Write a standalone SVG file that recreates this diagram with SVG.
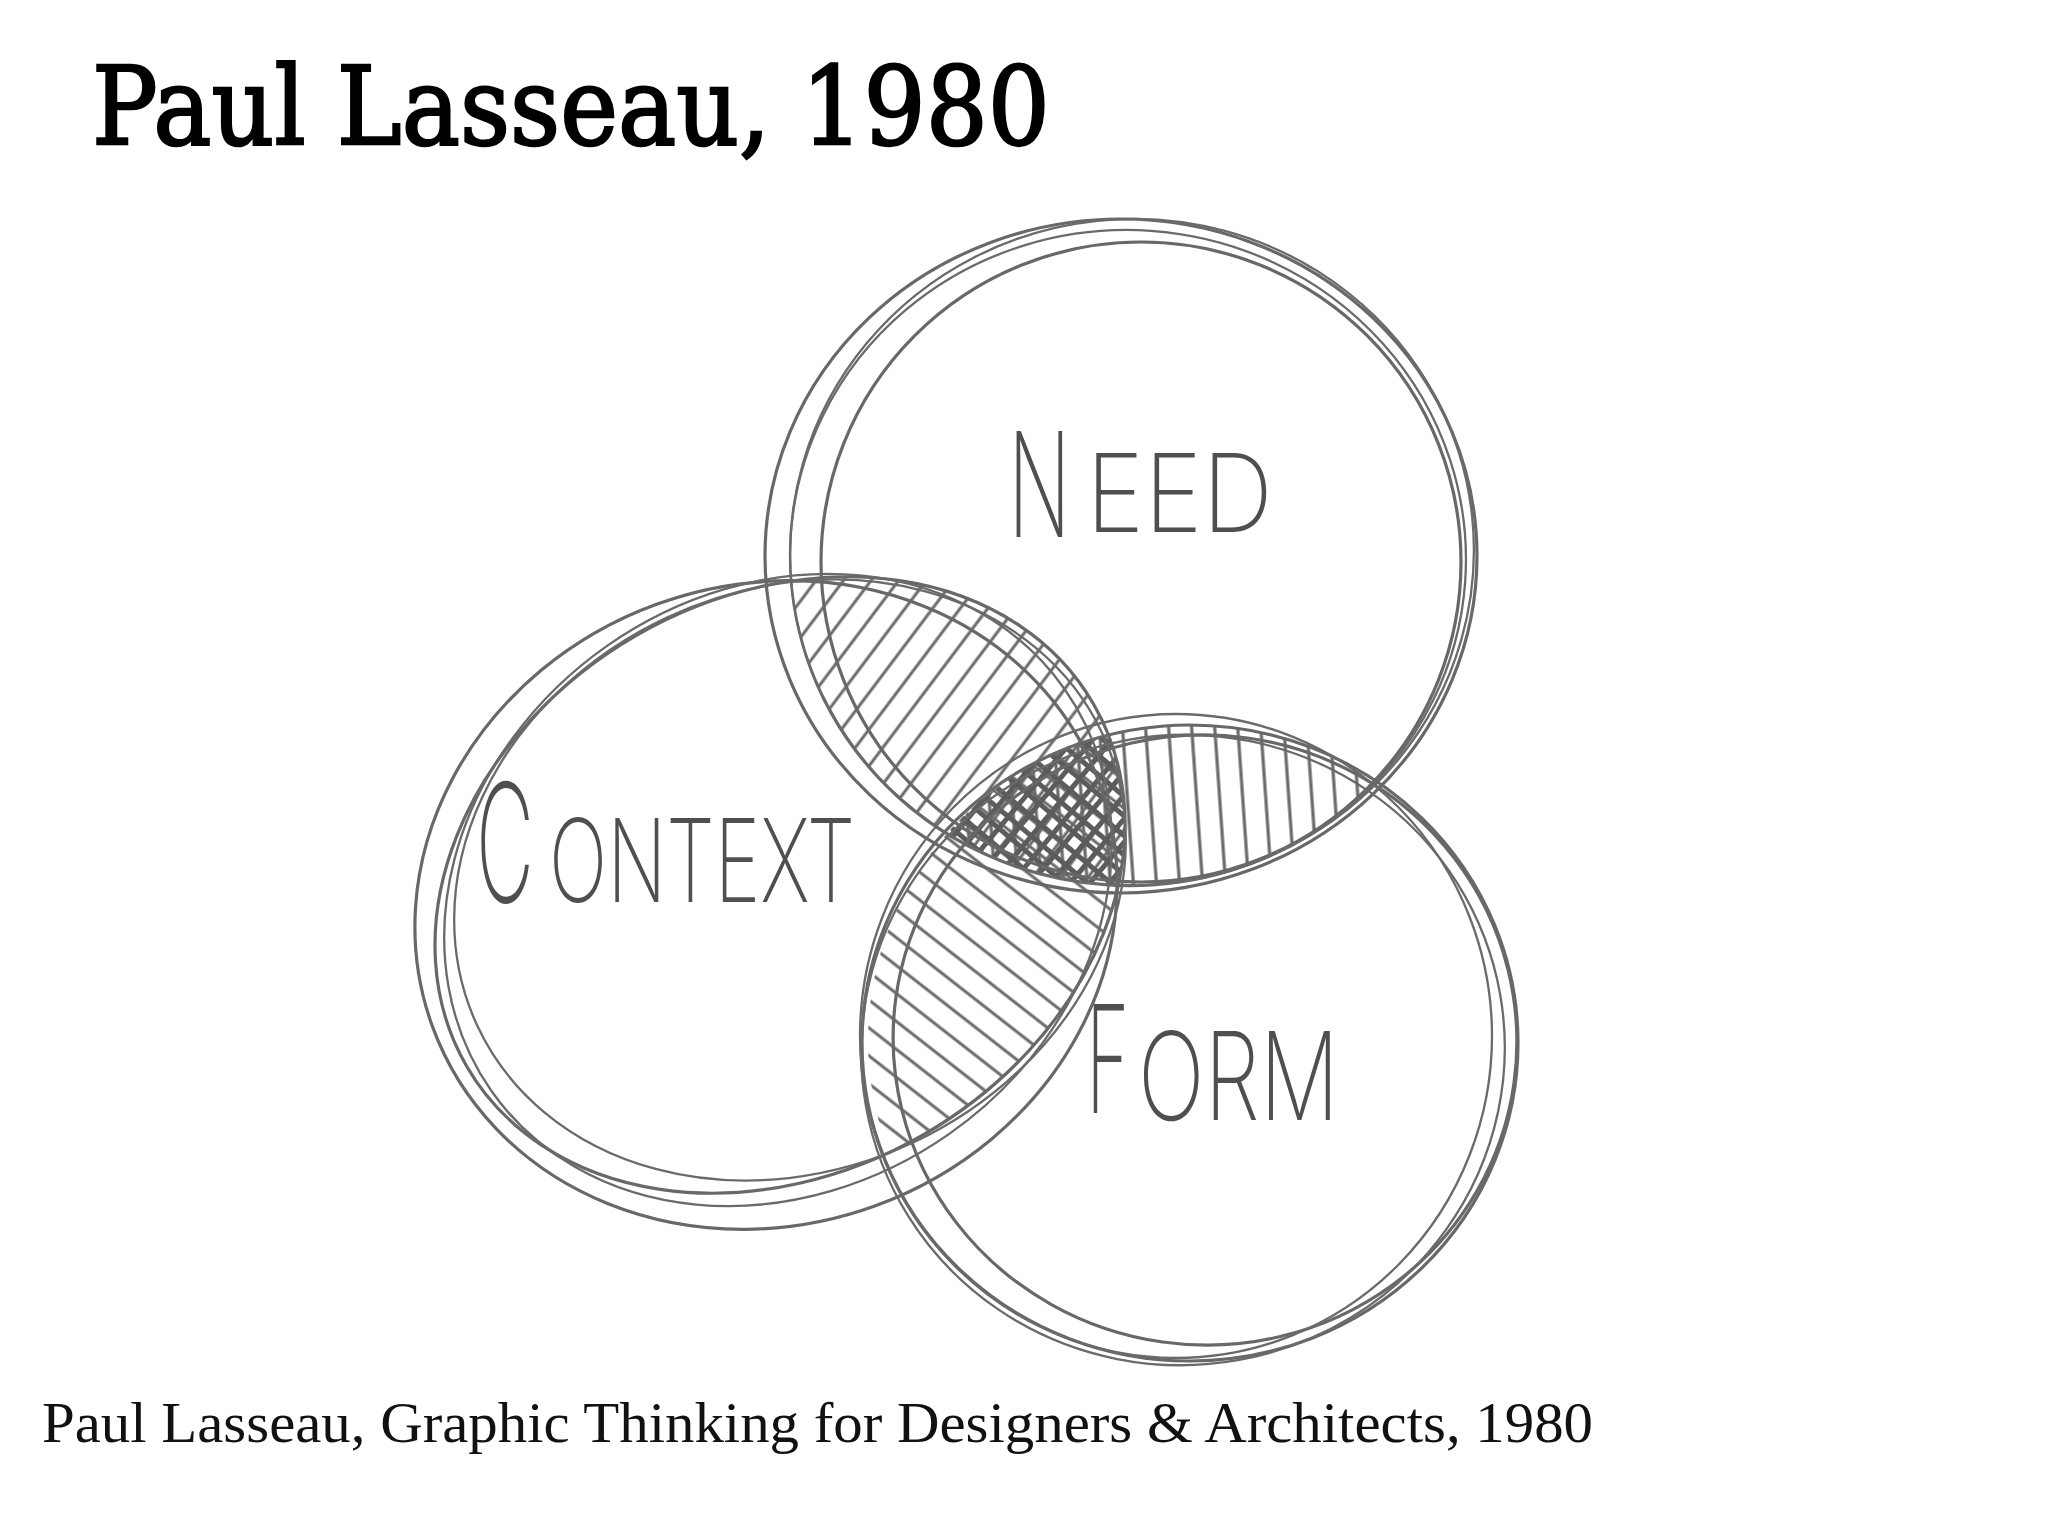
<svg xmlns="http://www.w3.org/2000/svg" width="2048" height="1536" viewBox="0 0 2048 1536">
<style>
  .sk{fill:none;stroke:#686868;stroke-width:3.2;stroke-linecap:round}
  .skt{fill:none;stroke:#6a6a6a;stroke-width:2.3}
  .lbl{font-family:Inter,"Noto Sans","DejaVu Sans",sans-serif;font-weight:200;fill:#4f4f4f}
  .title{font-family:"DejaVu Serif","Liberation Serif",serif;font-size:108px;fill:#000;stroke:#000;stroke-width:2.5}
  .cap{font-family:"Liberation Serif","Times New Roman",serif;font-size:57px;fill:#111}
</style>
<defs>
  <clipPath id="clipN"><ellipse cx="1130" cy="556" rx="340" ry="330"/></clipPath>
  <clipPath id="clipC"><ellipse cx="780" cy="885" rx="362" ry="288" transform="rotate(-30 780 885)"/></clipPath>
  <clipPath id="clipF"><ellipse cx="1190" cy="1040" rx="322" ry="315"/></clipPath>
  <pattern id="hNC" patternUnits="userSpaceOnUse" width="22" height="22" patternTransform="rotate(37)">
    <line x1="11" y1="-1" x2="11" y2="23" stroke="#6a6a6a" stroke-width="3"/>
  </pattern>
  <pattern id="hNF" patternUnits="userSpaceOnUse" width="23" height="23" patternTransform="rotate(-4)">
    <line x1="11" y1="-1" x2="11" y2="24" stroke="#6a6a6a" stroke-width="3.2"/>
  </pattern>
  <pattern id="hCF" patternUnits="userSpaceOnUse" width="22" height="22" patternTransform="rotate(38)">
    <line x1="-1" y1="11" x2="23" y2="11" stroke="#6a6a6a" stroke-width="3"/>
  </pattern>
  <pattern id="hX" patternUnits="userSpaceOnUse" width="15" height="15" patternTransform="rotate(40)">
    <line x1="7.5" y1="-1" x2="7.5" y2="16" stroke="#5c5c5c" stroke-width="5"/>
    <line x1="-1" y1="7.5" x2="16" y2="7.5" stroke="#5c5c5c" stroke-width="5"/>
  </pattern>
</defs>
<rect width="2048" height="1536" fill="#fff"/>

<g id="title"><text class="title" x="92" y="144" textLength="958" lengthAdjust="spacingAndGlyphs">Paul Lasseau, 1980</text></g>

<g id="hatching">
  <g clip-path="url(#clipN)"><rect x="700" y="500" width="500" height="450" fill="url(#hNC)" clip-path="url(#clipC)"/></g>
  <g clip-path="url(#clipN)"><rect x="900" y="680" width="550" height="260" fill="url(#hNF)" clip-path="url(#clipF)"/></g>
  <g clip-path="url(#clipC)"><rect x="820" y="700" width="380" height="500" fill="url(#hCF)" clip-path="url(#clipF)"/></g>
  <g clip-path="url(#clipN)"><g clip-path="url(#clipC)"><rect x="900" y="700" width="300" height="220" fill="url(#hX)" clip-path="url(#clipF)"/></g></g>
</g>

<g id="need">
  <ellipse class="sk" cx="1121" cy="556" rx="356" ry="337"/>
  <ellipse class="sk" cx="1141" cy="562" rx="320" ry="320"/>
  <ellipse class="skt" cx="1132" cy="552" rx="342" ry="333" transform="rotate(-6 1132 552)"/>
  <ellipse class="skt" cx="1128" cy="558" rx="338" ry="328" transform="rotate(4 1128 558)"/>
</g>

<g id="context">
  <ellipse class="sk" cx="780" cy="885" rx="362" ry="288" transform="rotate(-30 780 885)"/>
  <ellipse class="sk" cx="766" cy="905" rx="355" ry="320" transform="rotate(-20 766 905)"/>
  <ellipse class="skt" cx="778" cy="890" rx="350" ry="298" transform="rotate(-35 778 890)"/>
  <ellipse class="skt" cx="790" cy="880" rx="345" ry="290" transform="rotate(-25 790 880)"/>
</g>

<g id="form">
  <ellipse class="sk" cx="1190" cy="1043" rx="328" ry="318"/>
  <ellipse class="sk" cx="1205" cy="1040" rx="312" ry="305" transform="rotate(8 1205 1040)"/>
  <ellipse class="skt" cx="1183" cy="1050" rx="322" ry="315" transform="rotate(-10 1183 1050)"/>
  <ellipse class="skt" cx="1176" cy="1036" rx="316" ry="322"/>
</g>

<g id="labels">
  <text class="lbl" font-size="82" transform="translate(1008 537) scale(1 1.77)">N</text>
  <text class="lbl" x="1086" y="532" font-size="108" textLength="187" lengthAdjust="spacingAndGlyphs">EED</text>
  <text class="lbl" font-size="80" transform="translate(476 902) scale(1 2.06)">C</text>
  <text class="lbl" x="549" y="902" font-size="115" textLength="306" lengthAdjust="spacingAndGlyphs">ONTEXT</text>
  <text class="lbl" font-size="74" transform="translate(1086 1113) scale(1 2.03)">F</text>
  <text class="lbl" x="1138" y="1120" font-size="122" textLength="201" lengthAdjust="spacingAndGlyphs">ORM</text>
</g>

<g id="caption"><text class="cap" x="42" y="1442" textLength="1551" lengthAdjust="spacingAndGlyphs">Paul Lasseau, Graphic Thinking for Designers &amp; Architects, 1980</text></g>
</svg>
